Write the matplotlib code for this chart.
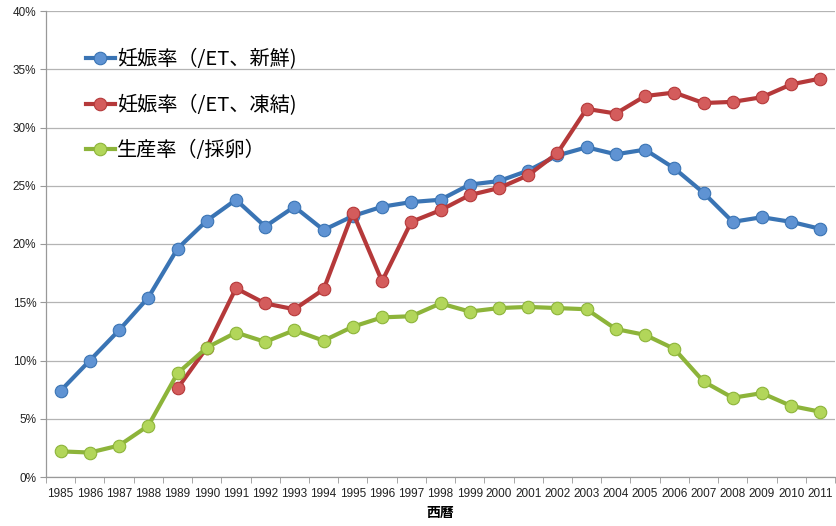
import matplotlib
matplotlib.use("Agg")
import matplotlib.pyplot as plt
from matplotlib.ticker import FixedLocator, NullFormatter

plt.rcParams['font.family'] = ['Liberation Sans', 'Noto Sans CJK JP', 'DejaVu Sans']

years = [str(y) for y in range(1985, 2012)]

# 妊娠率 /ET 新鮮胚
fresh = [7.4, 10.0, 12.6, 15.4, 19.6, 22.0, 23.8, 21.5, 23.2, 21.2,
         22.4, 23.2, 23.6, 23.8, 25.1, 25.4, 26.3, 27.6, 28.3, 27.7,
         28.1, 26.5, 24.4, 21.9, 22.3, 21.9, 21.3]

# 妊娠率 /ET 凍結胚 (1989年から)
frozen_years = years[4:]
frozen = [7.6, 11.1, 16.2, 14.9, 14.4, 16.1, 22.7, 16.8, 21.9, 22.9,
          24.2, 24.8, 25.9, 27.8, 31.6, 31.2, 32.7, 33.0, 32.1, 32.2,
          32.6, 33.7, 34.2]

# 生産率 /採卵
birth = [2.2, 2.1, 2.7, 4.4, 8.9, 11.1, 12.4, 11.6, 12.6, 11.7,
         12.9, 13.7, 13.8, 14.9, 14.2, 14.5, 14.6, 14.5, 14.4, 12.7,
         12.2, 11.0, 8.2, 6.8, 7.2, 6.1, 5.6]

labels = ["妊娠率（/ET、新鮮)", "妊娠率（/ET、凍結)", "生産率（/採卵）"]
line_cols = ["#3a74b4", "#b5393a", "#8db43a"]
face_cols = ["#5f93d3", "#d45c5c", "#b2d65a"]

fig = plt.figure(figsize=(8.36, 5.26), dpi=100)
ax = fig.add_axes([46 / 836, 49 / 526, 789 / 836, 466 / 526])

idx = {y: i for i, y in enumerate(years)}
series = [
    ([idx[y] for y in years], fresh),
    ([idx[y] for y in frozen_years], frozen),
    ([idx[y] for y in years], birth),
]
for (xs, ys), lab, lc, fc in zip(series, labels, line_cols, face_cols):
    ax.plot(xs, ys, color=lc, lw=3.0, marker='o', ms=9,
            markerfacecolor=fc, markeredgecolor=lc, markeredgewidth=0.8,
            label=lab, zorder=3)

ax.set_xlim(-0.5, len(years) - 0.5)
ax.set_ylim(0, 40)
ax.set_yticks(range(0, 41, 5))
ax.set_yticklabels([f"{v}%" for v in range(0, 41, 5)])
ax.set_xticks(range(len(years)))
ax.set_xticklabels(years)
ax.tick_params(axis='x', length=0, pad=8, labelsize=8.5, colors='#222222')
ax.xaxis.set_minor_locator(FixedLocator([i - 0.5 for i in range(len(years) + 1)]))
ax.xaxis.set_minor_formatter(NullFormatter())
ax.tick_params(axis='x', which='minor', length=4, color='#999999')
ax.tick_params(axis='y', length=4, color='#999999', labelsize=8.5,
               labelcolor='#222222', pad=3)

ax.grid(axis='y', color='#b4b4b4', lw=0.9)
ax.set_axisbelow(True)
for side in ('top', 'right'):
    ax.spines[side].set_visible(False)
for side in ('left', 'bottom'):
    ax.spines[side].set_color('#999999')
    ax.spines[side].set_linewidth(0.9)

ax.set_xlabel("西曆", fontsize=10, fontweight='bold', labelpad=4,
              family=['Noto Sans CJK JP', 'DejaVu Sans'])

leg = ax.legend(loc='upper left', bbox_to_anchor=(0.04, 0.935), frameon=False,
                prop={'family': ['Noto Sans CJK JP', 'DejaVu Sans'], 'size': 14.5},
                handlelength=1.45, handletextpad=0.1, labelspacing=1.2,
                borderaxespad=0)

fig.savefig("out.png", dpi=100, facecolor='white')
